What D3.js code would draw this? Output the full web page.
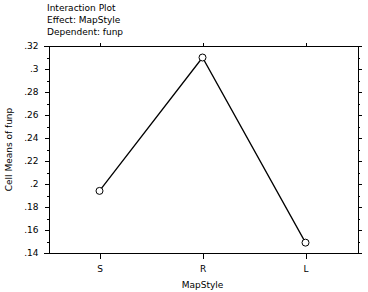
<!DOCTYPE html>
<html>
<head>
<meta charset="utf-8">
<script src="https://cdn.jsdelivr.net/npm/d3@7"></script>
<style>
  body { margin: 0; background: #fff; }
  svg text { font-family: "DejaVu Sans", sans-serif; font-size: 9px; fill: #000; }
  .axis path, .axis line { stroke: #000; shape-rendering: crispEdges; }
</style>
</head>
<body>
<div class="chart"></div>
<script>
// data
var categories = ['S', 'R', 'L'];
var cellMeans = [0.194, 0.310, 0.149];
var yTicks = [0.14, 0.16, 0.18, 0.20, 0.22, 0.24, 0.26, 0.28, 0.30, 0.32];
var titleLines = ['Interaction Plot', 'Effect: MapStyle', 'Dependent: funp'];

var width = 368, height = 292;
var plotLeft = 48, plotRight = 357, plotTop = 46, plotBottom = 253;

var svg = d3.select('.chart').append('svg')
  .attr('width', width)
  .attr('height', height);

var x = d3.scalePoint()
  .domain(categories)
  .range([plotLeft, plotRight])
  .padding(0.5);

var y = d3.scaleLinear()
  .domain([0.14, 0.32])
  .range([plotBottom, plotTop]);

// minor ticks every .01
var minor = d3.range(0.15, 0.32, 0.02);

function fmt(d) {
  // .3 not .30, .2 not .20
  return d3.format('.2f')(d).replace(/^0/, '').replace(/0$/, '');
}

// left axis
svg.append('g')
  .attr('class', 'axis')
  .attr('transform', 'translate(' + (plotLeft + 0.5) + ',0)')
  .call(d3.axisLeft(y).tickValues(yTicks).tickSize(4).tickSizeOuter(0).tickPadding(6).tickFormat(fmt))
  .call(function (g) { g.attr('font-size', null).attr('font-family', null); });

svg.append('g')
  .attr('class', 'axis')
  .attr('transform', 'translate(' + (plotLeft + 0.5) + ',0)')
  .call(d3.axisLeft(y).tickValues(minor).tickSize(2).tickSizeOuter(0).tickFormat(''))
  .call(function (g) { g.select('.domain').remove(); });

// right axis
svg.append('g')
  .attr('class', 'axis')
  .attr('transform', 'translate(' + (plotRight + 0.5) + ',0)')
  .call(d3.axisRight(y).tickValues(yTicks).tickSize(4).tickSizeOuter(0).tickFormat(''));

svg.append('g')
  .attr('class', 'axis')
  .attr('transform', 'translate(' + (plotRight + 0.5) + ',0)')
  .call(d3.axisRight(y).tickValues(minor).tickSize(2).tickSizeOuter(0).tickFormat(''))
  .call(function (g) { g.select('.domain').remove(); });

// bottom axis
svg.append('g')
  .attr('class', 'axis')
  .attr('transform', 'translate(0,' + (plotBottom + 0.5) + ')')
  .call(d3.axisBottom(x).tickSize(5).tickSizeOuter(0).tickPadding(7))
  .call(function (g) {
    g.attr('font-size', null).attr('font-family', null);
    g.select('.domain').remove();
  });

// top axis
svg.append('g')
  .attr('class', 'axis')
  .attr('transform', 'translate(0,' + (plotTop + 0.5) + ')')
  .call(d3.axisTop(x).tickSize(4).tickSizeOuter(0).tickFormat(''))
  .call(function (g) { g.select('.domain').remove(); });

// frame lines, extended a bit past the side axes
[plotTop, plotBottom].forEach(function (yy) {
  svg.append('line')
    .attr('x1', plotLeft - 4).attr('x2', plotRight + 5)
    .attr('y1', yy + 0.5).attr('y2', yy + 0.5)
    .attr('stroke', '#000')
    .attr('shape-rendering', 'crispEdges');
});

// line + markers
var pts = categories.map(function (c, i) { return { cat: c, v: cellMeans[i] }; });

svg.append('path')
  .datum(pts)
  .attr('fill', 'none')
  .attr('stroke', '#000')
  .attr('stroke-width', 1.3)
  .attr('d', d3.line()
    .x(function (d) { return x(d.cat); })
    .y(function (d) { return y(d.v); }));

svg.selectAll('.pt')
  .data(pts)
  .enter().append('circle')
  .attr('class', 'pt')
  .attr('cx', function (d) { return x(d.cat); })
  .attr('cy', function (d) { return y(d.v); })
  .attr('r', 3.5)
  .attr('fill', '#fff')
  .attr('stroke', '#000')
  .attr('stroke-width', 1);

// titles
svg.selectAll('.title')
  .data(titleLines)
  .enter().append('text')
  .attr('class', 'title')
  .attr('x', 47)
  .attr('y', function (d, i) { return 10.5 + i * 12; })
  .text(function (d) { return d; });

svg.append('text')
  .attr('transform', 'translate(12,' + ((plotTop + plotBottom) / 2) + ') rotate(-90)')
  .attr('text-anchor', 'middle')
  .text('Cell Means of funp');

svg.append('text')
  .attr('x', (plotLeft + plotRight) / 2)
  .attr('y', 288)
  .attr('text-anchor', 'middle')
  .text('MapStyle');
</script>
</body>
</html>
